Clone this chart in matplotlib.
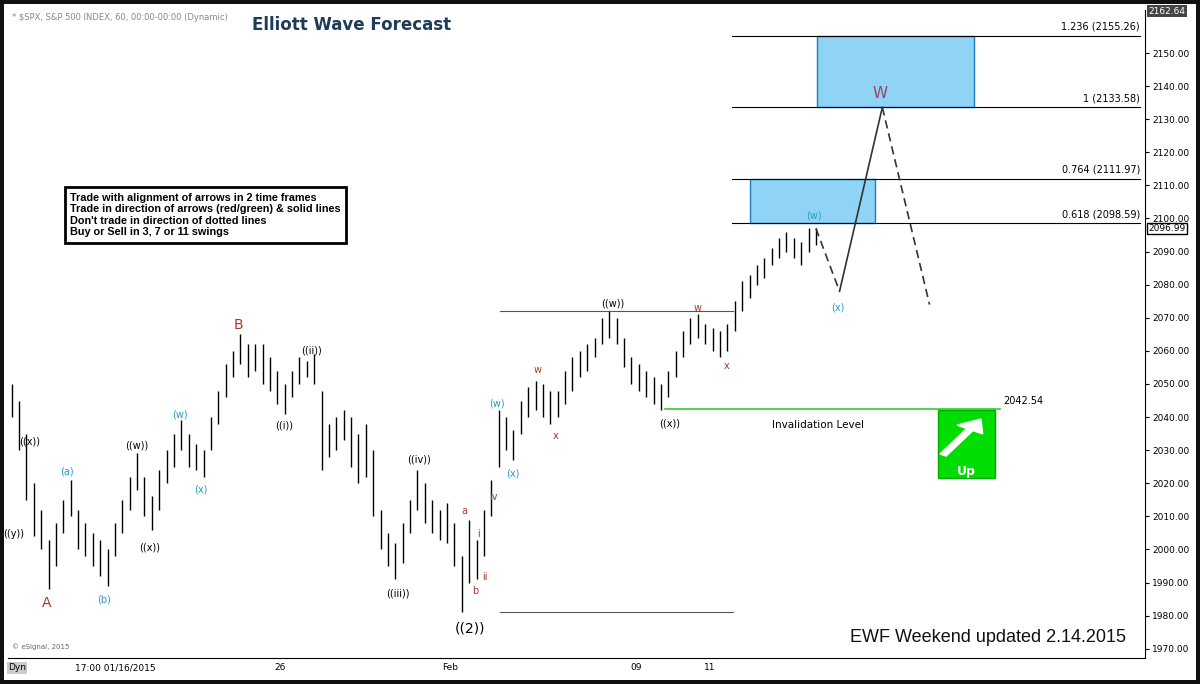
import matplotlib
matplotlib.use("Agg")
import matplotlib.pyplot as plt
from matplotlib.patches import Rectangle, FancyArrow

# hourly bars (low, high), one per bar index
bar_lows = [2040, 2030, 2015, 2004, 2000, 1988, 1995, 2005, 2010, 2000,
            1998, 1995, 1992, 1989, 1998, 2005, 2012, 2018, 2010, 2006,
            2012, 2020, 2025, 2030, 2025, 2024, 2022, 2030, 2038, 2046,
            2052, 2056, 2052, 2054, 2050, 2048, 2044, 2041, 2046, 2050,
            2052, 2050, 2024, 2028, 2030, 2033, 2025, 2020, 2022, 2010,
            2000, 1995, 1991, 1996, 2005, 2012, 2008, 2005, 2003, 2002,
            1995, 1981, 1990, 1991, 1998, 2010, 2025, 2030, 2027, 2035,
            2040, 2042, 2040, 2038, 2040, 2044, 2048, 2052, 2054, 2058,
            2062, 2064, 2062, 2055, 2050, 2048, 2046, 2044, 2042, 2046,
            2052, 2058, 2062, 2064, 2062, 2060, 2058, 2060, 2066, 2072,
            2076, 2080, 2082, 2086, 2088, 2090, 2088, 2086, 2090, 2092]
bar_highs = [2050, 2045, 2035, 2020, 2012, 2003, 2008, 2015, 2021, 2012,
             2008, 2005, 2003, 2000, 2008, 2015, 2022, 2029, 2022, 2016,
             2024, 2030, 2035, 2039, 2035, 2032, 2030, 2040, 2048, 2056,
             2060, 2065, 2062, 2062, 2062, 2058, 2054, 2050, 2054, 2058,
             2057, 2059, 2048, 2038, 2040, 2042, 2040, 2035, 2038, 2030,
             2012, 2005, 2002, 2008, 2015, 2024, 2020, 2015, 2012, 2014,
             2008, 1998, 2009, 2003, 2012, 2021, 2042, 2040, 2036, 2045,
             2049, 2051, 2050, 2048, 2048, 2054, 2058, 2060, 2062, 2064,
             2070, 2072, 2070, 2064, 2058, 2056, 2054, 2052, 2050, 2054,
             2060, 2066, 2070, 2071, 2068, 2067, 2066, 2068, 2075, 2081,
             2083, 2086, 2088, 2091, 2094, 2096, 2094, 2093, 2097, 2097]

fib_levels = [2155.26, 2133.58, 2111.97, 2098.59]
fib_labels = ["1.236 (2155.26)", "1 (2133.58)", "0.764 (2111.97)", "0.618 (2098.59)"]
invalidation = 2042.54
last_price = 2096.99
# projected path: (bar index, price)
proj_x = [109, 112.2, 118.0, 124.4]
proj_y = [2097, 2078, 2133.58, 2074]

price_ticks = list(range(1970, 2151, 10))
date_labels = ["17:00 01/16/2015", "26", "Feb", "09", "11"]
date_px = [115, 280, 450, 636, 710]

W, H = 1200, 684
L, R, T, B = 8, 1145, 10, 658
Y0, Y1 = 1967.2, 2163.0
X0, X1 = -0.5, 153.6


def px(x, y):
    """pixel position -> data coordinates"""
    return (X0 + (x - L) / (R - L) * (X1 - X0),
            Y1 - (y - T) / (B - T) * (Y1 - Y0))


fig = plt.figure(figsize=(W / 100, H / 100), dpi=100)
fig.patch.set_facecolor("#111111")
bg = fig.add_axes([4 / W, 4 / H, 1192 / W, 676 / H])
bg.set_facecolor("white")
bg.set_xticks([]); bg.set_yticks([])
for s in bg.spines.values():
    s.set_visible(False)

ax = fig.add_axes([L / W, 1 - B / H, (R - L) / W, (B - T) / H])
ax.set_facecolor("white")
ax.set_xlim(X0, X1)
ax.set_ylim(Y0, Y1)

idx = list(range(len(bar_lows)))
ax.vlines(idx, bar_lows, bar_highs, color="black", lw=1.0)

def hline(y, xa, xb, **kw):
    a, _ = px(xa, 0)
    b, _ = px(xb, 0)
    ax.plot([a, b], [y, y], **kw)

for lvl, lab in zip(fib_levels, fib_labels):
    hline(lvl, 732, 1140, color="black", lw=0.8)
    ax.text(px(1140, 0)[0], lvl + 1.2, lab, ha="right", va="bottom", fontsize=7)

for xa, xb, lo, hi in [(817, 974, fib_levels[1], fib_levels[0]),
                       (750, 875, fib_levels[3], fib_levels[2])]:
    a = px(xa, 0)[0]; b = px(xb, 0)[0]
    ax.add_patch(Rectangle((a, lo), b - a, hi - lo, facecolor="#8fd3f5",
                           edgecolor="#1a7fc0", lw=1, zorder=1))

hline(2072, 500, 733, color="#555555", lw=0.8)
hline(1981, 500, 733, color="#555555", lw=0.8)
hline(invalidation, 665, 1000, color="#33cc33", lw=1.2)
ax.text(px(1003, 0)[0], invalidation + 1.5, f"{invalidation:.2f}", fontsize=7)
ax.text(*px(818, 425), "Invalidation Level", fontsize=7.5, ha="center", va="center")

ax.plot(proj_x[:2], proj_y[:2], color="#333333", lw=1.2, ls=(0, (5, 3)))
ax.plot(proj_x[1:3], proj_y[1:3], color="#333333", lw=1.2)
ax.plot(proj_x[2:], proj_y[2:], color="#333333", lw=1.2, ls=(0, (5, 3)))

RED, TEAL, K = "#a83a2c", "#2a9cc4", "black"
labels = [
    (30, 442, "((x))", K, 7), (14, 534, "((y))", K, 7), (47, 603, "A", RED, 10),
    (67, 472, "(a)", TEAL, 7), (104, 599, "(b)", TEAL, 7), (137, 445, "((w))", K, 7),
    (150, 548, "((x))", K, 7), (180, 414, "(w)", TEAL, 7), (201, 490, "(x)", TEAL, 7),
    (238, 325, "B", RED, 10), (312, 350, "((ii))", K, 7), (284, 426, "((i))", K, 7),
    (419, 459, "((iv))", K, 7), (398, 593, "((iii))", K, 7), (464, 511, "a", RED, 7),
    (475, 591, "b", RED, 7), (479, 534, "i", RED, 7), (485, 577, "ii", RED, 7),
    (493, 497, "iv", RED, 7), (470, 628, "((2))", K, 10), (497, 403, "(w)", TEAL, 7),
    (513, 473, "(x)", TEAL, 7), (538, 370, "w", RED, 7), (556, 436, "x", RED, 7),
    (613, 303, "((w))", K, 7), (670, 423, "((x))", K, 7), (698, 308, "w", RED, 7),
    (727, 366, "x", RED, 7), (814, 216, "(w)", TEAL, 7), (838, 307, "(x)", TEAL, 7),
    (880, 94, "W", "#a0406a", 11),
]
for x, y, t, c, fs in labels:
    ax.text(*px(x, y), t, color=c, fontsize=fs, ha="center", va="center")

# green "Up" arrow box
a, lo = px(938, 478); b, hi = px(995, 410)
ax.add_patch(Rectangle((a, lo), b - a, hi - lo, facecolor="#00dd00", edgecolor="#00aa00", zorder=3))
fig.add_artist(FancyArrow(943 / W, 1 - 455 / H, 38 / W, 36 / H, width=0.006,
                          head_width=0.025, head_length=0.018,
                          length_includes_head=True, color="white", transform=fig.transFigure))
fig.text(966 / W, 1 - 471 / H, "Up", color="white", fontsize=9, fontweight="bold",
         ha="center", va="center")

rules = ("Trade with alignment of arrows in 2 time frames\n"
         "Trade in direction of arrows (red/green) & solid lines\n"
         "Don't trade in direction of dotted lines\n"
         "Buy or Sell in 3, 7 or 11 swings")
fig.text(70 / W, 1 - 215 / H, rules, fontsize=7.8, fontweight="bold", va="center",
         linespacing=1.2, family="Liberation Sans",
         bbox=dict(boxstyle="square,pad=0.5", facecolor="white", edgecolor="black", lw=2))

fig.text(988 / W, 1 - 638 / H, "EWF Weekend updated 2.14.2015", fontsize=13,
         ha="center", va="center", color="#111111", family="Liberation Sans")
fig.text(12 / W, 1 - 18 / H, "* $SPX, S&P 500 INDEX, 60, 00:00-00:00 (Dynamic)",
         fontsize=6, color="#888888", va="center")
fig.text(252 / W, 1 - 25 / H, "Elliott Wave Forecast", fontsize=12, fontweight="bold",
         color="#1f3b5a", va="center")
fig.text(12 / W, 1 - 649 / H, "© eSignal, 2015", fontsize=5, color="#666666")

# right price axis
ax.yaxis.tick_right()
ax.set_yticks(price_ticks)
ax.set_yticklabels([f"{v:.2f}" for v in price_ticks], fontsize=6.5)
ax.tick_params(axis="y", length=3, pad=2)
ax.set_xticks([])
for s in ["top", "left"]:
    ax.spines[s].set_visible(False)
ax.text(1.003, (last_price - Y0) / (Y1 - Y0), f"{last_price:.2f}", transform=ax.transAxes,
        fontsize=6.5, va="center", bbox=dict(facecolor="white", edgecolor="black", pad=1))
ax.text(1.003, (2162.64 - Y0) / (Y1 - Y0), "2162.64", transform=ax.transAxes,
        fontsize=6.5, va="center", color="white",
        bbox=dict(facecolor="#444444", edgecolor="none", pad=1))

# bottom date strip
for lab, xp in zip(date_labels, date_px):
    fig.text(xp / W, 1 - 668 / H, lab, fontsize=6.5, ha="center", va="center")
fig.text(8 / W, 1 - 668 / H, "Dyn", fontsize=6.5, va="center",
         bbox=dict(facecolor="#cccccc", edgecolor="none", pad=1))

fig.savefig("out.png", dpi=100, facecolor=fig.get_facecolor())
